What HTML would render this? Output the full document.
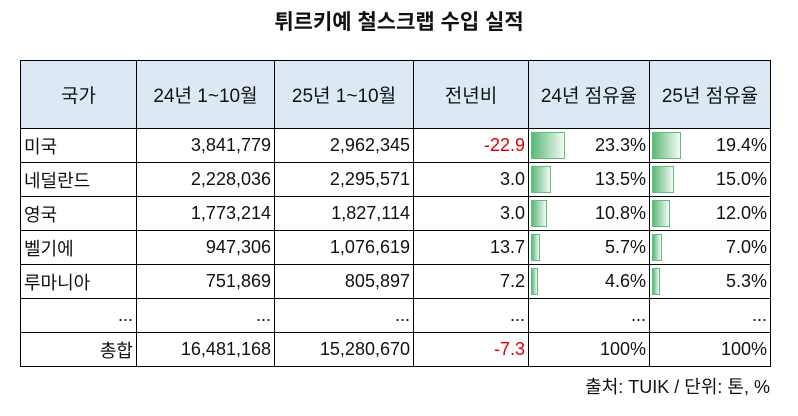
<!DOCTYPE html>
<html><head><meta charset="utf-8"><style>
body{margin:0;width:798px;height:416px;background:#fff;font-family:"Liberation Sans","Noto Sans CJK KR",sans-serif;position:relative;overflow:hidden;color:#111}
.t{position:absolute;top:6px;left:0;width:798px;text-align:center;font-size:21px;font-weight:bold}
table{position:absolute;left:20px;top:60px;border-collapse:collapse;font-size:18px}
td{border:1.5px solid #000;height:32px;padding:0 3px;text-align:right;position:relative;white-space:nowrap;box-sizing:border-box}
tr{height:34px}
tr.h{height:68px}
tr.h td{height:68px;background:#dce9f5;text-align:center;font-size:19px}
td.l{text-align:left}
.r{color:#e00000}
.b{position:absolute;left:2px;top:3px;bottom:3px;border:1px solid #5fbf80;background:linear-gradient(to right,#5cb878,#f2faf4);box-sizing:border-box}
.f{position:absolute;right:28px;top:373px;font-size:18px}
</style></head><body>
<div class="t">튀르키예 철스크랩 수입 실적</div>
<table>
<colgroup><col style="width:116px"><col style="width:138px"><col style="width:139px"><col style="width:115px"><col style="width:121px"><col style="width:121px"></colgroup>
<tr class="h"><td>국가</td><td>24년 1~10월</td><td>25년 1~10월</td><td>전년비</td><td>24년 점유율</td><td>25년 점유율</td></tr>
<tr><td class="l">미국</td><td>3,841,779</td><td>2,962,345</td><td class="r">-22.9</td><td><div class="b" style="width:34px"></div>23.3%</td><td><div class="b" style="width:29px"></div>19.4%</td></tr>
<tr><td class="l">네덜란드</td><td>2,228,036</td><td>2,295,571</td><td>3.0</td><td><div class="b" style="width:20px"></div>13.5%</td><td><div class="b" style="width:22px"></div>15.0%</td></tr>
<tr><td class="l">영국</td><td>1,773,214</td><td>1,827,114</td><td>3.0</td><td><div class="b" style="width:16px"></div>10.8%</td><td><div class="b" style="width:18px"></div>12.0%</td></tr>
<tr><td class="l">벨기에</td><td>947,306</td><td>1,076,619</td><td>13.7</td><td><div class="b" style="width:9px"></div>5.7%</td><td><div class="b" style="width:10px"></div>7.0%</td></tr>
<tr><td class="l">루마니아</td><td>751,869</td><td>805,897</td><td>7.2</td><td><div class="b" style="width:7px"></div>4.6%</td><td><div class="b" style="width:8px"></div>5.3%</td></tr>
<tr><td>...</td><td>...</td><td>...</td><td>...</td><td>...</td><td>...</td></tr>
<tr><td>총합</td><td>16,481,168</td><td>15,280,670</td><td class="r">-7.3</td><td>100%</td><td>100%</td></tr>
</table>
<div class="f">출처: TUIK / 단위: 톤, %</div>
</body></html>
